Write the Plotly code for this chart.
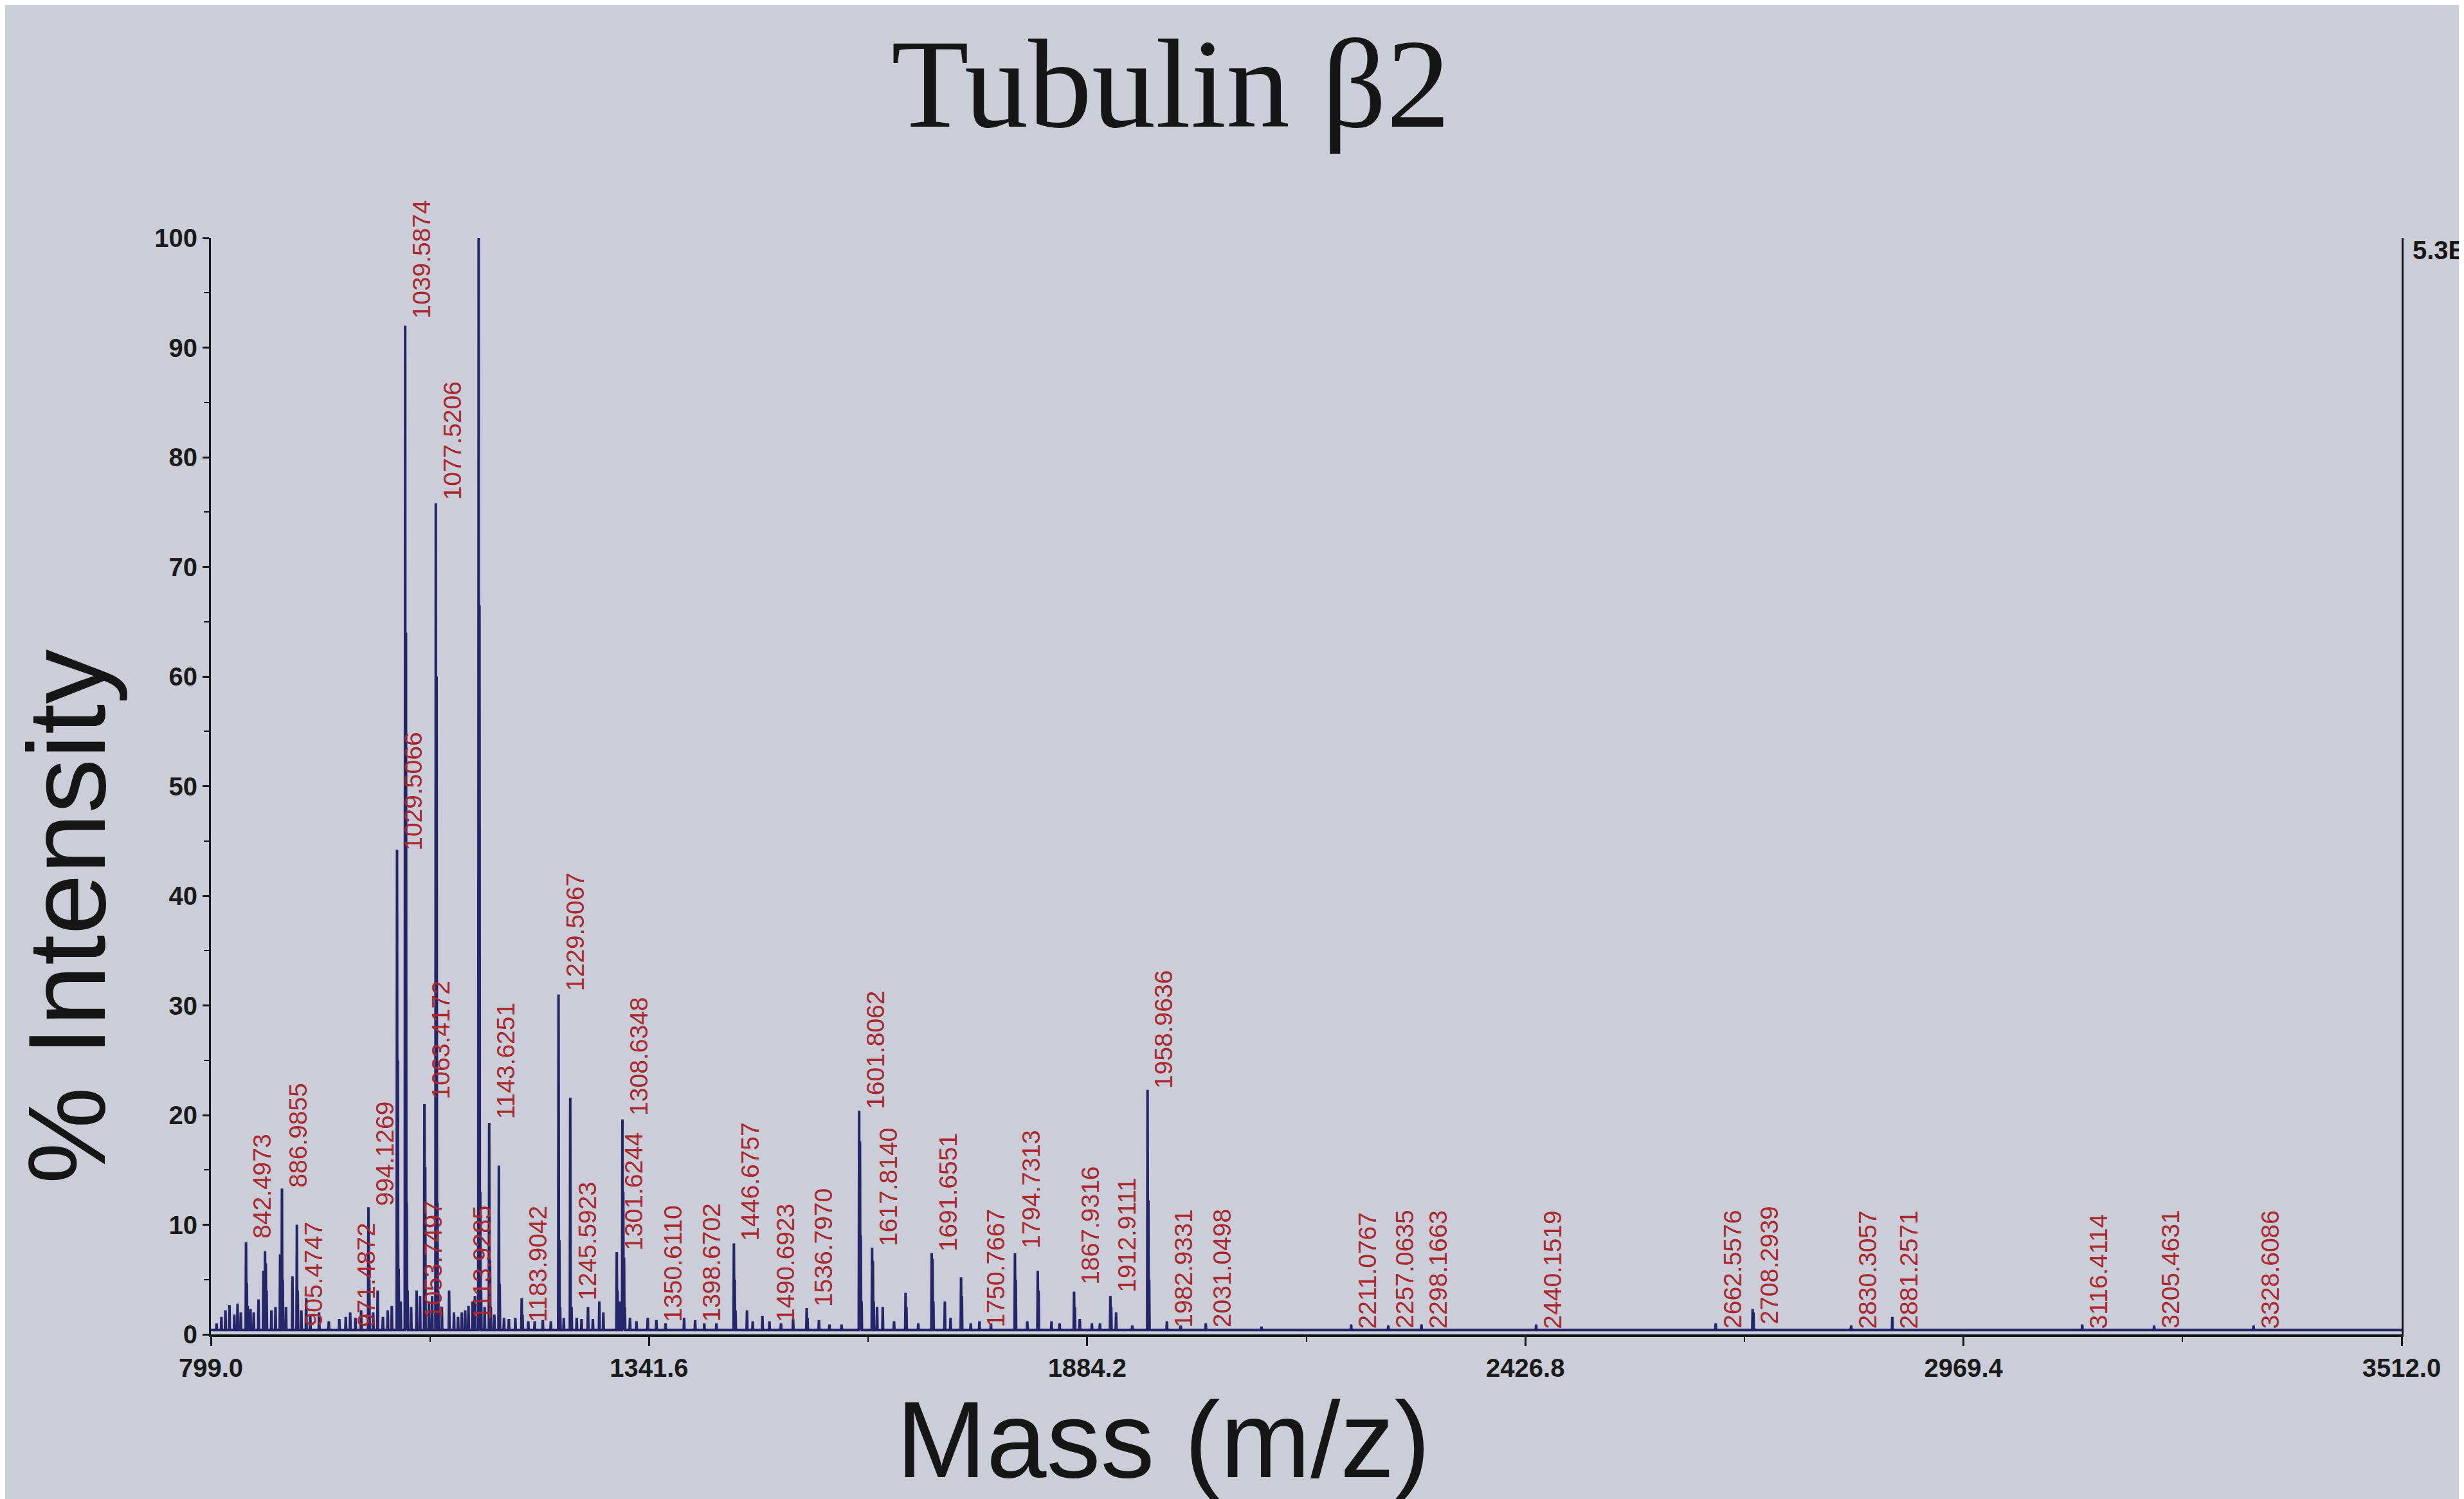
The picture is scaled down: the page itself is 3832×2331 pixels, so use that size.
import plotly.graph_objects as go

# ── Espectro: posições m/z e intensidade relativa (%) ─────────────────────────
low_mz = [806, 812, 817, 822, 828, 832, 836, 842.4973, 843.5, 844.5, 848, 852,
          858, 864, 866, 867, 868, 874, 879, 884.7, 886.9855, 888, 892, 900,
          905.4747, 906.5, 911, 917, 922, 933, 945, 958, 966, 971.4872, 978,
          985, 994.1269, 995.1, 1000, 1005.5, 1012, 1018, 1023]
low_int = [1.0, 1.6, 2.2, 2.7, 1.8, 2.8, 2.0, 8.4, 4.7, 2.6, 2.3, 2.0,
           3.2, 5.8, 7.6, 6.5, 4.0, 2.2, 2.5, 7.3, 13.3, 5.0, 2.5, 5.3,
           10.0, 4.0, 2.2, 3.3, 1.8, 2.0, 1.2, 1.4, 1.6, 2.0, 1.5,
           2.2, 11.6, 5.0, 2.0, 4.0, 1.6, 2.2, 2.6]

main_mz = [1029.5066, 1030.5, 1031.5, 1034, 1039.5874, 1040.59, 1041.59, 1042.6,
           1047, 1053.7497, 1058, 1063.4172, 1064.4, 1069, 1073, 1077.5206,
           1078.52, 1079.52, 1080.5, 1085, 1094, 1100, 1105, 1109.7, 1113.9285,
           1118, 1123, 1126, 1130.5841, 1131.58, 1132.58, 1133.6, 1138,
           1143.6251, 1144.63, 1145.6, 1150, 1155.6, 1156.6, 1162, 1168, 1176,
           1183.9042, 1184.9, 1192, 1200, 1210, 1220, 1229.5067, 1230.51,
           1231.5, 1236, 1244, 1245.5923, 1252, 1258]
main_int = [44.2, 25.0, 6.0, 3.0, 92.0, 64.0, 12.0, 4.0,
            2.5, 4.0, 3.5, 21.0, 15.3, 3.0, 3.5, 75.8,
            60.0, 12.0, 4.0, 2.5, 4.0, 2.0, 1.6, 2.0, 2.2,
            2.6, 3.0, 3.5, 100.0, 66.5, 13.0, 4.0, 2.5,
            19.3, 6.7, 2.5, 1.8, 15.4, 4.6, 1.5, 1.4, 1.5,
            3.3, 1.8, 1.2, 1.2, 1.3, 1.2, 31.0, 8.6,
            2.5, 1.5, 21.6, 2.5, 1.5, 1.4]

mid_mz = [1266, 1272, 1280, 1285, 1301.6244, 1302.6, 1305, 1308.6348, 1309.64,
          1310.64, 1311.6, 1318, 1326, 1340, 1350.611, 1362, 1385, 1398.6702,
          1410, 1425, 1446.6757, 1447.68, 1448.68, 1462.9, 1470, 1482,
          1490.6923, 1505, 1520, 1536.797, 1537.8, 1552, 1565, 1580,
          1601.8062, 1602.81, 1603.81, 1604.8, 1617.814, 1618.82, 1619.8,
          1624, 1631, 1645, 1659.3, 1660.3, 1675, 1691.6551, 1692.66, 1693.7,
          1707.9, 1715, 1728, 1729, 1740, 1750.7667, 1765, 1794.7313, 1795.73,
          1810, 1823, 1824, 1840, 1850, 1867.9316, 1868.9, 1875, 1890, 1900,
          1912.9111, 1913.9, 1920, 1940, 1958.9636, 1959.96, 1960.96]
mid_int = [2.5, 1.4, 3.0, 2.0, 7.5, 4.0, 3.0, 19.6, 13.0,
           7.0, 2.5, 1.5, 1.2, 1.5, 1.3, 1.0, 1.5, 1.3,
           1.0, 1.0, 8.3, 5.0, 2.2, 2.2, 1.2, 1.7,
           1.2, 1.0, 1.4, 2.4, 1.5, 1.3, 0.9, 0.9,
           20.4, 17.6, 9.0, 3.0, 7.9, 6.7, 3.0,
           2.5, 2.5, 1.2, 3.8, 2.5, 1.0, 7.4, 6.9, 3.0,
           3.0, 1.5, 5.2, 3.5, 1.0, 1.2, 1.0, 7.4, 5.0,
           1.2, 5.8, 4.0, 1.2, 1.0, 3.9, 2.5, 1.4, 1.0, 1.0,
           3.5, 2.5, 2.0, 0.8, 22.3, 12.2, 5.0]

high_mz = [1982.9331, 2000, 2031.0498, 2100, 2211.0767, 2257.0635, 2298.1663,
           2440.1519, 2662.5576, 2708.2939, 2709.3, 2830.3057, 2881.2571,
           3116.4114, 3205.4631, 3328.6086]
high_int = [1.2, 0.8, 1.0, 0.7, 0.9, 0.8, 0.9,
            0.9, 1.0, 2.3, 2.0, 0.8, 1.6,
            0.9, 0.8, 0.8]

BASELINE = 0.4

# ── Rótulos dos picos (texto m/z e altura onde o rótulo começa) ───────────────
label_text = ["842.4973", "886.9855", "905.4747", "971.4872", "994.1269",
              "1029.5066", "1039.5874", "1053.7497", "1063.4172", "1077.5206",
              "1113.9285", "1130.5841", "1143.6251", "1183.9042", "1229.5067",
              "1245.5923", "1301.6244", "1308.6348", "1350.6110", "1398.6702",
              "1446.6757", "1490.6923", "1536.7970", "1601.8062", "1617.8140",
              "1691.6551", "1750.7667", "1794.7313", "1867.9316", "1912.9111",
              "1958.9636", "1982.9331", "2031.0498", "2211.0767", "2257.0635",
              "2298.1663", "2440.1519", "2662.5576", "2708.2939", "2830.3057",
              "2881.2571", "3116.4114", "3205.4631", "3328.6086"]
label_base = [8.6, 13.3, 0.6, 0.5, 11.6,
              44.0, 92.5, 1.3, 21.3, 76.0,
              1.2, 100.5, 19.5, 1.0, 31.2,
              3.0, 7.5, 19.8, 1.0, 1.0,
              8.4, 1.0, 2.4, 20.4, 7.9,
              7.4, 0.5, 7.7, 4.4, 3.7,
              22.3, 0.5, 0.5, 0.4, 0.4,
              0.4, 0.4, 0.4, 0.8, 0.4,
              0.4, 0.4, 0.4, 0.4]

x_ticks = [799.0, 1341.6, 1884.2, 2426.8, 2969.4, 3512.0]
y_ticks = [0, 10, 20, 30, 40, 50, 60, 70, 80, 90, 100]

# ── Cores ─────────────────────────────────────────────────────────────────────
BG = "#cbced8"
TRACE = "#25256a"
AXIS = "#15151c"
RED = "#a8282e"

# ── Monta o traço do espectro (cada pico como um triângulo estreito) ──────────
peaks = sorted(zip(low_mz + main_mz + mid_mz + high_mz,
                   low_int + main_int + mid_int + high_int))
HW = 0.5
xs, ys = [x_ticks[0]], [BASELINE]
for mz, inten in peaks:
    xs += [mz - HW, mz, mz + HW]
    ys += [BASELINE, inten, BASELINE]
xs.append(x_ticks[-1])
ys.append(BASELINE)

fig = go.Figure()
fig.add_trace(go.Scatter(
    x=xs, y=ys, mode="lines",
    line=dict(color=TRACE, width=4),
    hoverinfo="skip", showlegend=False,
))

annotations = []
for txt, base in zip(label_text, label_base):
    annotations.append(dict(
        x=float(txt), y=base, xref="x", yref="y",
        text=txt, textangle=-90, showarrow=False,
        xanchor="left", yanchor="bottom", xshift=2,
        font=dict(family="Liberation Sans, Arial, sans-serif", size=39, color=RED),
    ))

# Título, rótulos dos eixos e fator de escala
annotations += [
    dict(text="Tubulin β2", x=0.438, y=1.075, xref="paper", yref="paper",
         showarrow=False, xanchor="center", yanchor="bottom",
         font=dict(family="Liberation Serif, Times New Roman, serif", size=198, color="#161616")),
    dict(text="Mass (m/z)", x=0.4347, y=-0.040, xref="paper", yref="paper",
         showarrow=False, xanchor="center", yanchor="top",
         font=dict(family="Liberation Sans, Arial, sans-serif", size=168, color="#161616")),
    dict(text="% Intensity", x=-0.0655, y=0.381, xref="paper", yref="paper",
         textangle=-90, showarrow=False, xanchor="center", yanchor="middle",
         font=dict(family="Liberation Sans, Arial, sans-serif", size=170, color="#161616")),
    dict(text="5.3E", x=1.0045, y=1.003, xref="paper", yref="paper",
         showarrow=False, xanchor="left", yanchor="top",
         font=dict(family="Liberation Sans, Arial, sans-serif", size=40, color="#161616", weight="bold")),
]

fig.update_layout(
    width=3832, height=2331,
    margin=dict(l=320, r=105, t=362, b=264),
    paper_bgcolor=BG, plot_bgcolor=BG,
    annotations=annotations,
    showlegend=False,
)

TICKFONT = dict(family="Liberation Sans, Arial, sans-serif", size=40, color="#1a1a1a", weight="bold")

fig.update_xaxes(
    range=[x_ticks[0], x_ticks[-1]],
    tickvals=x_ticks, ticktext=[f"{v:.1f}" for v in x_ticks],
    ticks="outside", ticklen=14, tickwidth=3, tickcolor=AXIS,
    showline=True, linecolor=AXIS, linewidth=4,
    showgrid=False, zeroline=False, tickfont=TICKFONT,
    minor=dict(tickvals=[(a + b) / 2 for a, b in zip(x_ticks[:-1], x_ticks[1:])],
               ticks="outside", ticklen=8, tickwidth=2, tickcolor=AXIS, showgrid=False),
)
fig.update_yaxes(
    range=[0, 100],
    tickvals=y_ticks,
    ticks="outside", ticklen=10, tickwidth=3, tickcolor=AXIS,
    showline=True, linecolor=AXIS, linewidth=3, mirror=True,
    showgrid=False, zeroline=False, tickfont=TICKFONT,
    minor=dict(dtick=5, tick0=0, ticks="outside", ticklen=8, tickwidth=2,
               tickcolor=AXIS, showgrid=False),
)

fig.write_html("out.html")
